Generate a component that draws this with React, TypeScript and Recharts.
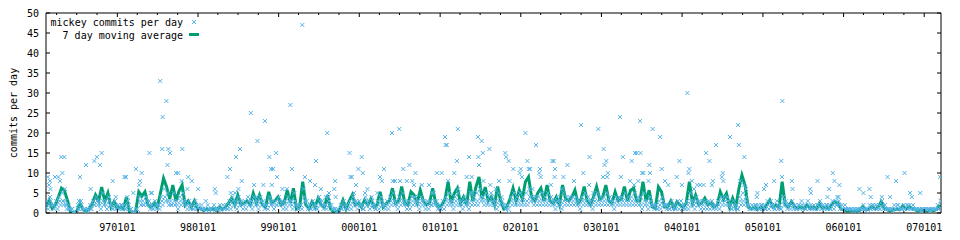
import { ComposedChart, Line, Scatter, XAxis, YAxis, Legend } from "recharts";

// day 0 = 1996-02-13, one point per 14 days for the moving average
const START = Date.UTC(1996, 1, 13);
const DAY = 86400000;
const SPAN = 4051;
const STEP = 14;

const movingAverage = [
  1.5, 3.2, 1.2, 2, 4, 6.2, 5.5, 3, 0.2, 0,
  0.5, 2.4, 0.8, 0.5, 1, 2.5, 4.5, 3, 6.5, 3,
  5, 1.5, 2.8, 1.2, 1.5, 1, 4, 0.3, 0, 0.5,
  5.3, 4.2, 5.3, 2, 1.5, 2.5, 1.5, 5, 8.7, 6.5,
  3.5, 7, 3, 5.5, 7, 2, 3, 1.5, 3, 1,
  1.2, 0.6, 1, 0.8, 1.2, 0.7, 1.5, 0.8, 1.5, 2.5,
  3.7, 2, 4.5, 2, 2.5, 3, 2, 4.9, 2.5, 4.5,
  2, 1.5, 5.3, 2.5, 3, 4, 2, 2.5, 5.7, 2.5,
  6.2, 1, 1.5, 7.8, 2, 1, 2.8, 1.5, 3.7, 2,
  1.5, 4.5, 1, 0.3, 0.2, 1, 3.2, 1, 3, 4.5,
  2, 2.5, 1.5, 3.2, 2, 3.5, 1.5, 2, 5.3, 1.5,
  2.5, 3, 6.2, 2.5, 3, 6.6, 2.5, 2, 5.3, 4.5,
  2.5, 5.7, 3, 2, 2.5, 6.2, 2.5, 1.5, 2, 3.5,
  7.8, 2.5, 4.9, 6.2, 2.5, 4, 2, 7.8, 3, 6.5,
  9, 3.5, 6.5, 3, 4, 2, 6.6, 3, 1, 1.5,
  3.5, 6.2, 3, 5.7, 3.5, 7.8, 9, 4, 3, 5,
  6.2, 3, 7, 3, 2.5, 4, 2, 7, 3.5, 3,
  4, 5.7, 2.5, 3.5, 6.6, 3, 2, 4, 6.6, 3.5,
  4, 7, 3, 2.5, 5.3, 3, 3.5, 6.6, 3, 5.7,
  6.2, 3, 3, 7.8, 3, 5.7, 1.5, 1.2, 6.5, 5.3,
  1.5, 1.5, 3, 1.2, 2.8, 2, 1.5, 2.5, 7.8, 2.5,
  4.5, 2, 2.5, 3.7, 2, 2.5, 1.5, 2, 5.3, 3.5,
  4.9, 1.5, 3.7, 1.5, 6, 9.5, 7, 1.5, 1, 1.5,
  0.8, 1.5, 1, 2, 3.2, 1.5, 2, 1.5, 7.8, 2,
  1.5, 2.8, 1.5, 1.2, 1.5, 1, 2, 1.2, 1.5, 1,
  2.4, 1.2, 1.5, 1, 2, 2.8, 2.5, 1, 0.8, 0.5,
  0.6, 0.4, 0.5, 0.6, 1.6, 0.8, 1, 1.6, 1, 1.5,
  2.8, 1.2, 0.8, 0.5, 0.8, 1, 0.8, 1.8, 1, 1.5,
  1.2, 0.8, 0.5, 0.8, 0.6, 0.5, 0.8, 0.6, 1, 2,
];

// the dense low band of daily commits, three readings per 14 days
const busyDays = [
  3, 4, 2, 3, 4, 5, 3, 2, 1, 0,
  2, 3, 1, 1, 2, 3, 4, 3, 5, 3,
  4, 2, 3, 2, 2, 2, 4, 1, 0, 1,
  4, 3, 4, 3, 2, 3, 2, 4, 6, 5,
  3, 5, 3, 4, 5, 3, 3, 2, 3, 2,
  2, 1, 2, 1, 2, 1, 2, 2, 2, 3,
  4, 3, 4, 3, 3, 4, 3, 4, 3, 4,
  3, 2, 4, 3, 3, 4, 3, 3, 4, 3,
  5, 2, 2, 6, 3, 2, 3, 2, 4, 3,
  2, 4, 2, 1, 1, 2, 3, 2, 3, 4,
  3, 3, 2, 4, 3, 4, 2, 3, 4, 2,
  3, 4, 5, 3, 4, 5, 3, 3, 4, 4,
  3, 4, 3, 3, 3, 5, 3, 2, 3, 4,
  5, 3, 4, 5, 3, 4, 3, 5, 4, 5,
  6, 4, 5, 4, 4, 3, 5, 4, 2, 2,
  4, 5, 4, 5, 4, 5, 6, 4, 4, 4,
  5, 4, 5, 4, 3, 4, 3, 5, 4, 4,
  4, 4, 3, 4, 5, 4, 3, 4, 5, 4,
  4, 5, 4, 3, 4, 4, 4, 5, 4, 4,
  5, 4, 4, 5, 3, 4, 2, 2, 3, 4,
  2, 2, 3, 2, 3, 3, 2, 3, 5, 3,
  4, 3, 3, 3, 3, 3, 2, 3, 4, 4,
  4, 2, 3, 2, 4, 5, 4, 2, 2, 2,
  2, 2, 2, 3, 3, 2, 3, 2, 4, 3,
  2, 3, 2, 2, 3, 2, 3, 2, 2, 2,
  3, 2, 2, 2, 3, 3, 3, 2, 2, 1,
  1, 1, 1, 1, 2, 1, 2, 2, 2, 2,
  3, 2, 1, 1, 2, 2, 1, 2, 2, 2,
  2, 1, 1, 1, 1, 1, 1, 1, 2, 3,
];

const middleDays = [
  2, 3, 2, 2, 3, 3, 2, 1, 1, 0,
  1, 2, 1, 0, 1, 2, 3, 2, 3, 2,
  3, 1, 2, 1, 2, 1, 3, 1, 0, 1,
  3, 2, 3, 2, 1, 2, 2, 3, 4, 3,
  2, 3, 2, 3, 3, 2, 2, 1, 2, 1,
  1, 1, 1, 1, 1, 1, 1, 1, 1, 2,
  3, 2, 3, 2, 2, 3, 2, 3, 2, 3,
  2, 2, 3, 2, 2, 3, 2, 2, 3, 2,
  3, 1, 2, 4, 2, 1, 2, 1, 3, 2,
  2, 3, 1, 1, 0, 1, 2, 1, 2, 3,
  2, 2, 1, 3, 2, 3, 1, 2, 3, 2,
  2, 3, 3, 2, 3, 3, 2, 2, 3, 3,
  2, 3, 2, 2, 2, 3, 2, 1, 2, 3,
  3, 2, 3, 3, 2, 3, 2, 3, 3, 3,
  4, 3, 3, 3, 3, 2, 3, 3, 1, 1,
  3, 3, 3, 3, 3, 3, 4, 3, 3, 3,
  3, 3, 3, 3, 2, 3, 2, 3, 3, 3,
  3, 3, 2, 3, 3, 3, 2, 3, 3, 3,
  3, 3, 3, 2, 3, 3, 3, 3, 3, 3,
  3, 3, 2, 3, 2, 3, 2, 1, 2, 3,
  2, 1, 2, 1, 2, 2, 1, 2, 3, 2,
  3, 2, 2, 2, 2, 2, 2, 2, 3, 3,
  3, 1, 2, 1, 3, 3, 3, 1, 1, 2,
  1, 2, 1, 2, 2, 1, 2, 1, 3, 2,
  2, 2, 1, 2, 2, 1, 2, 1, 1, 2,
  2, 1, 2, 1, 2, 2, 2, 1, 1, 1,
  1, 0, 1, 1, 1, 1, 1, 2, 1, 1,
  2, 1, 1, 1, 1, 2, 1, 1, 2, 1,
  1, 1, 1, 0, 1, 1, 1, 1, 1, 2,
];

const quietDays = [
  1, 2, 1, 1, 2, 2, 1, 1, 0, 0,
  1, 1, 0, 1, 1, 2, 2, 1, 2, 1,
  2, 1, 1, 1, 1, 1, 2, 0, 0, 0,
  2, 2, 2, 1, 1, 1, 1, 2, 3, 2,
  2, 2, 1, 2, 2, 1, 1, 1, 1, 1,
  1, 0, 1, 0, 1, 0, 1, 1, 1, 1,
  2, 1, 2, 1, 1, 2, 1, 2, 1, 2,
  1, 1, 2, 1, 2, 2, 1, 1, 2, 1,
  2, 1, 1, 3, 1, 1, 1, 1, 2, 1,
  1, 2, 1, 0, 0, 1, 1, 1, 1, 2,
  1, 2, 1, 2, 1, 2, 1, 1, 2, 1,
  1, 2, 2, 1, 2, 2, 1, 1, 2, 2,
  1, 2, 1, 1, 2, 2, 1, 1, 1, 2,
  2, 1, 2, 2, 1, 2, 1, 2, 2, 2,
  3, 2, 2, 2, 2, 1, 2, 2, 1, 0,
  2, 2, 2, 2, 2, 2, 3, 2, 2, 2,
  2, 2, 2, 2, 1, 2, 1, 2, 2, 2,
  2, 2, 1, 2, 2, 2, 1, 2, 2, 2,
  2, 2, 2, 1, 2, 2, 2, 2, 2, 2,
  2, 2, 1, 2, 1, 2, 1, 1, 1, 2,
  1, 1, 1, 1, 1, 1, 1, 1, 2, 1,
  2, 1, 1, 1, 1, 1, 1, 1, 2, 2,
  2, 1, 1, 1, 2, 2, 2, 1, 1, 1,
  1, 1, 1, 1, 2, 1, 1, 1, 2, 1,
  1, 1, 1, 1, 1, 1, 1, 1, 1, 1,
  1, 1, 1, 1, 1, 2, 1, 1, 1, 1,
  0, 1, 0, 1, 1, 0, 1, 1, 1, 1,
  1, 1, 1, 0, 1, 1, 1, 1, 1, 1,
  1, 1, 0, 1, 1, 0, 1, 1, 1, 1,
];

// individual days standing out above the band: [day, commits]
const standoutDays: [number, number][] = [
  [517, 33], [545, 28], [528, 24], [927, 25], [991, 23], [1106, 27], [1160, 47], [957, 18],
  [69, 14], [83, 14], [74, 10], [18, 8], [8, 9], [14, 7], [41, 9], [56, 9], [63, 8], [85, 6],
  [154, 9], [181, 12], [202, 6], [219, 13], [230, 14], [252, 15], [244, 12], [302, 8],
  [355, 9], [362, 9], [407, 11], [433, 10], [426, 8], [422, 7], [468, 15], [479, 5],
  [526, 16], [554, 16], [561, 15], [550, 12], [589, 10], [599, 10], [617, 16], [614, 8],
  [644, 9], [660, 8], [689, 6], [821, 9], [833, 11], [860, 14], [878, 16], [886, 8],
  [856, 5], [871, 6], [942, 7], [984, 7], [1011, 14], [1019, 11], [1028, 11], [1022, 7],
  [1042, 15], [1046, 9], [1114, 11], [1090, 6], [1172, 9], [1195, 8], [1218, 7], [1222, 13],
  [20, 6], [395, 5], [474, 5], [640, 6], [285, 4], [316, 4], [149, 3],
  [764, 6], [768, 5], [836, 5], [954, 4], [1070, 6], [1244, 6], [1281, 5], [1305, 6],
  [1311, 4], [1266, 4], [723, 3],
  [1273, 20], [1374, 15], [1429, 14], [1414, 11], [1434, 10], [1309, 8], [1378, 9], [1384, 9],
  [1403, 7], [1444, 5], [1566, 20], [1599, 21], [1530, 11], [1512, 9], [1520, 8], [1617, 11],
  [1645, 12], [1672, 10], [1603, 8], [1580, 8], [1806, 19], [1809, 17], [1814, 17], [1864, 21],
  [1769, 10], [1791, 10], [1848, 10], [1860, 13], [1915, 14], [1955, 19], [1972, 18], [1957, 14],
  [1960, 12], [1977, 15], [2007, 16], [1904, 9], [1927, 9], [1980, 8], [2079, 15], [2083, 14],
  [2094, 13], [2115, 11], [2144, 10], [2154, 9], [2170, 20], [2218, 17], [2185, 11], [2191, 11],
  [2236, 11], [2233, 10], [2239, 9], [2292, 13], [2298, 13], [2304, 11], [2360, 12], [2342, 9],
  [2422, 22], [2500, 21], [2460, 14], [2432, 10], [2524, 16], [2536, 13], [2528, 12], [2521, 9],
  [2540, 9], [2611, 14], [2651, 13], [2666, 15], [2674, 15], [2681, 8], [2598, 24],
  [1570, 8], [1633, 8], [1658, 8], [1666, 7], [1701, 7], [1734, 7], [1820, 8], [2011, 7],
  [1455, 6], [1500, 5], [1394, 5], [1746, 5], [1930, 5], [1866, 6], [2015, 5],
  [2179, 13], [2149, 11], [2302, 9], [2390, 8], [2543, 10], [2602, 9], [2699, 10], [2644, 8],
  [2051, 8], [2098, 8], [2036, 6], [2285, 7], [2458, 7], [2662, 7], [2146, 5], [2202, 6],
  [2337, 6], [2478, 5],
  [2689, 23], [2746, 21], [2780, 19], [2691, 15], [2731, 12], [2734, 10], [2704, 10], [2787, 11],
  [2802, 8], [2817, 7], [2727, 8], [2867, 13], [2855, 9], [2878, 7], [2912, 11], [2908, 10],
  [2923, 8], [2903, 30], [2988, 15], [3003, 13], [3033, 17], [2976, 7], [2961, 7], [3018, 8],
  [3014, 7], [3096, 19], [3132, 22], [3136, 17], [3161, 14], [3063, 10], [3059, 9], [3066, 8],
  [3142, 8], [3158, 7], [3169, 6], [3220, 5], [3217, 4], [3259, 7], [3250, 6], [3328, 13],
  [3331, 9], [3376, 8], [3296, 8], [3333, 28], [3459, 6], [3462, 5], [3492, 8], [3561, 10],
  [3569, 8], [3591, 7], [3545, 6], [3587, 4], [3682, 6], [3700, 5], [3727, 6], [3809, 9],
  [3847, 8], [3886, 10], [3911, 5], [3919, 4], [3957, 5], [3783, 4], [3821, 4], [4047, 9],
  [4050, 3], [2948, 7], [2933, 6], [3379, 6], [3733, 4], [3537, 4], [3582, 4],
];

const yTicks = [0, 5, 10, 15, 20, 25, 30, 35, 40, 45, 50];
const tickYears = [1996, 1997, 1998, 1999, 2000, 2001, 2002, 2003, 2004, 2005, 2006, 2007];
const tickMonths = [0, 3, 6, 9];

const BLUE = "#56b4e9";
const GREEN = "#009e73";
const FONT = "'DejaVu Sans Mono', monospace";

const dayOf = (y: number, m: number) => Math.round((Date.UTC(y, m, 1) - START) / DAY);

const xTicks: number[] = [];
const majorTicks = new Set<number>();
tickYears.forEach((y) =>
  tickMonths.forEach((m) => {
    const d = dayOf(y, m);
    if (d < 0 || d > SPAN) return;
    xTicks.push(d);
    if (m === 0) majorTicks.add(d);
  })
);

const yymmdd = (day: number) => {
  const dt = new Date(START + day * DAY);
  const p = (n: number) => String(n).padStart(2, "0");
  return p(dt.getUTCFullYear() % 100) + p(dt.getUTCMonth() + 1) + p(dt.getUTCDate());
};

const averageData = movingAverage.map((v, i) => ({ x: i * STEP, y: v }));
const commitData = [
  ...busyDays.map((v, i) => ({ x: i * STEP + 4, y: v })),
  ...middleDays.map((v, i) => ({ x: i * STEP + 7, y: v })),
  ...quietDays.map((v, i) => ({ x: i * STEP + 10, y: v })),
  ...standoutDays.map(([d, v]) => ({ x: d, y: v })),
].filter((p) => p.x <= SPAN);

const BottomTick = (props: any) => {
  const { x, y, payload } = props;
  const major = majorTicks.has(payload.value);
  return (
    <g>
      <line x1={x} x2={x} y1={y} y2={y - (major ? 4 : 2)} stroke="#000" />
      {major && (
        <text x={x} y={y + 18} textAnchor="middle" fontFamily={FONT} fontSize={10} fill="#000">
          {yymmdd(payload.value)}
        </text>
      )}
    </g>
  );
};

const TopTick = (props: any) => {
  const { x, y, payload } = props;
  const major = majorTicks.has(payload.value);
  return <line x1={x} x2={x} y1={y} y2={y + (major ? 4 : 2)} stroke="#000" />;
};

const LeftTick = (props: any) => {
  const { x, y, payload } = props;
  return (
    <g>
      <line x1={x} x2={x + 4} y1={y} y2={y} stroke="#000" />
      <text x={x - 7} y={y + 3.5} textAnchor="end" fontFamily={FONT} fontSize={10} fill="#000">
        {payload.value}
      </text>
    </g>
  );
};

const RightTick = (props: any) => {
  const { x, y } = props;
  return <line x1={x} x2={x - 4} y1={y} y2={y} stroke="#000" />;
};

const Cross = (props: any) => {
  const { cx, cy } = props;
  if (cx == null || cy == null) return null;
  return (
    <path
      d={`M${cx - 2},${cy - 2}L${cx + 2},${cy + 2}M${cx - 2},${cy + 2}L${cx + 2},${cy - 2}`}
      stroke={BLUE}
      strokeWidth={1}
      fill="none"
    />
  );
};

const YLabel = () => (
  <text
    transform="translate(8.5,105) rotate(-90)"
    textAnchor="middle"
    fontFamily={FONT}
    fontSize={10}
    fill="#000"
  >
    commits per day
  </text>
);

const KeyBox = () => (
  <svg width={220} height={40} style={{ display: "block" }}>
    <text x={175} y={18} textAnchor="end" fontFamily={FONT} fontSize={10} fill="#000">
      mickey commits per day
    </text>
    <path d="M184,12L188,16M184,16L188,12" stroke={BLUE} strokeWidth={1} fill="none" />
    <text x={175} y={31} textAnchor="end" fontFamily={FONT} fontSize={10} fill="#000">
      7 day moving average
    </text>
    <line x1={181} x2={191} y1={26.5} y2={26.5} stroke={GREEN} strokeWidth={3} />
  </svg>
);

export default function App() {
  return (
    <ComposedChart width={952} height={232} margin={{ top: 0, right: 0, bottom: 0, left: 0 }}>
      <XAxis
        xAxisId="b"
        dataKey="x"
        type="number"
        domain={[0, SPAN]}
        ticks={xTicks}
        interval={0}
        tickSize={0}
        tickMargin={0}
        tick={<BottomTick />}
        height={27}
        axisLine={{ stroke: "#000" }}
        allowDataOverflow
      />
      <XAxis
        xAxisId="t"
        orientation="top"
        dataKey="x"
        type="number"
        domain={[0, SPAN]}
        ticks={xTicks}
        interval={0}
        tickSize={0}
        tickMargin={0}
        tick={<TopTick />}
        height={5}
        axisLine={{ stroke: "#000" }}
        allowDataOverflow
      />
      <YAxis
        yAxisId="l"
        dataKey="y"
        type="number"
        domain={[0, 50]}
        ticks={yTicks}
        interval={0}
        tickSize={0}
        tickMargin={0}
        tick={<LeftTick />}
        width={38}
        axisLine={{ stroke: "#000" }}
        label={<YLabel />}
        allowDataOverflow
      />
      <YAxis
        yAxisId="r"
        orientation="right"
        dataKey="y"
        type="number"
        domain={[0, 50]}
        ticks={yTicks}
        interval={0}
        tickSize={0}
        tickMargin={0}
        tick={<RightTick />}
        width={19}
        axisLine={{ stroke: "#000" }}
        allowDataOverflow
      />
      <Legend
        layout="horizontal"
        verticalAlign="middle"
        align="center"
        wrapperStyle={{ top: 0, left: 0, width: 220, height: 40 }}
        content={() => <KeyBox />}
      />
      <Scatter
        name="mickey commits per day"
        data={commitData}
        dataKey="y"
        xAxisId="b"
        yAxisId="l"
        shape={<Cross />}
        isAnimationActive={false}
      />
      <Line
        name="7 day moving average"
        data={averageData}
        dataKey="y"
        xAxisId="b"
        yAxisId="l"
        type="linear"
        stroke={GREEN}
        strokeWidth={3}
        dot={false}
        activeDot={false}
        isAnimationActive={false}
      />
      <Scatter data={[{ x: 0, y: 0 }]} dataKey="y" xAxisId="t" yAxisId="r" shape={() => null} isAnimationActive={false} />
    </ComposedChart>
  );
}
